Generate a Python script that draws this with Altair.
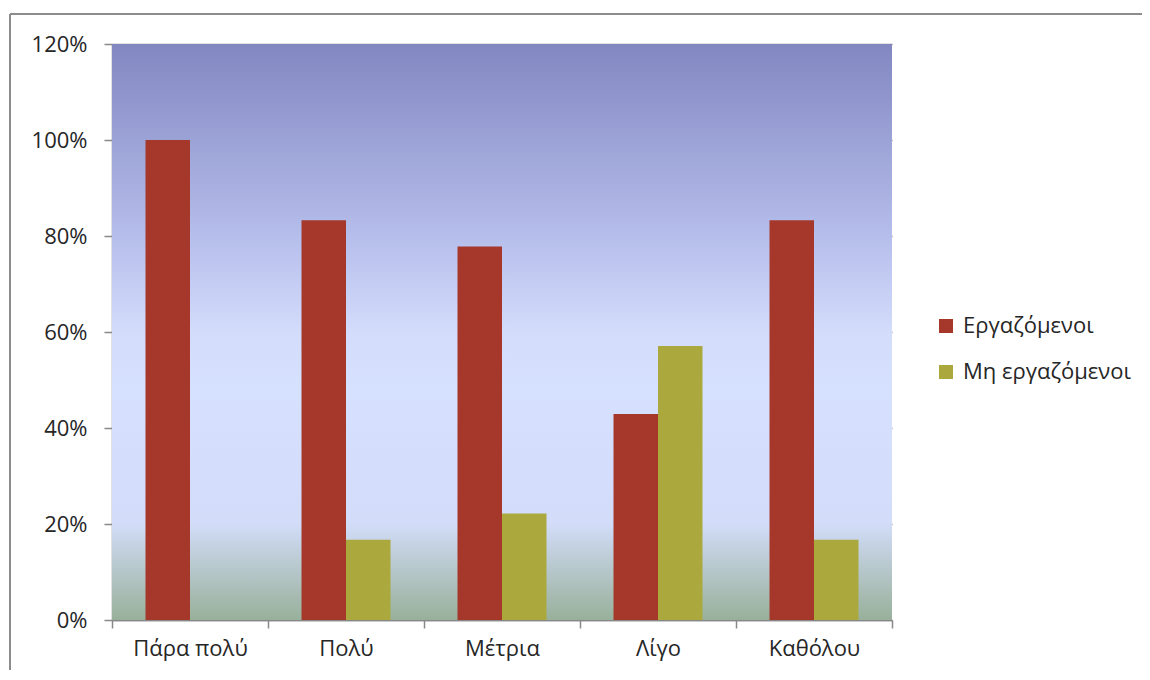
import altair as alt
import pandas as pd

categories = ["Πάρα πολύ", "Πολύ", "Μέτρια", "Λίγο", "Καθόλου"]
series_names = ["Εργαζόμενοι", "Μη εργαζόμενοι"]
employed = [1.0, 0.833, 0.778, 0.429, 0.833]
unemployed = [0.0, 0.167, 0.222, 0.571, 0.167]
y_ticks = [0, 0.2, 0.4, 0.6, 0.8, 1.0, 1.2]
colors = ["#A5382A", "#ABA83E"]

rows = []
for c, a, b in zip(categories, employed, unemployed):
    rows.append({"cat": c, "series": series_names[0], "value": a})
    rows.append({"cat": c, "series": series_names[1], "value": b})
df = pd.DataFrame(rows)

W, H = 780, 576
PAD = {"left": 104, "top": 36, "right": 250, "bottom": 50}
FONT = "Open Sans"
FS = 22

gradient = alt.LinearGradient(
    gradient="linear", x1=0, x2=0, y1=0, y2=1,
    stops=[
        alt.GradientStop(offset=0.0, color="#8287C2"),
        alt.GradientStop(offset=0.17, color="#9CA3D6"),
        alt.GradientStop(offset=0.33, color="#B5BDEB"),
        alt.GradientStop(offset=0.5, color="#D3DCFB"),
        alt.GradientStop(offset=0.6, color="#D6E0FF"),
        alt.GradientStop(offset=0.83, color="#D3DDFA"),
        alt.GradientStop(offset=1.0, color="#98B09A"),
    ],
)

one = pd.DataFrame({"a": [0]})
frame_left = alt.Chart(one).mark_rule(color="#8C8C8C", strokeWidth=2, clip=False).encode(
    x=alt.value(-102), y=alt.value(-30), y2=alt.value(H + PAD["bottom"])
)
frame_top = alt.Chart(one).mark_rule(color="#8C8C8C", strokeWidth=2, clip=False).encode(
    x=alt.value(-102), x2=alt.value(W + PAD["right"]), y=alt.value(-30)
)

bg = alt.Chart(one).mark_rect(fill=gradient).encode(
    x=alt.value(0), x2=alt.value(W), y=alt.value(0), y2=alt.value(H)
)

bars = alt.Chart(df).mark_bar(size=44.5).encode(
    x=alt.X("cat:N", sort=categories, title=None,
            scale=alt.Scale(paddingInner=0, paddingOuter=0),
            axis=alt.Axis(labelAngle=0, tickBand="extent", tickSize=8,
                          tickColor="#888888", tickWidth=1.5,
                          domainColor="#888888", domainWidth=1.5,
                          labelFont=FONT, labelFontSize=FS, labelColor="#262626",
                          labelPadding=10, grid=False)),
    xOffset=alt.XOffset("series:N", sort=series_names,
                        scale=alt.Scale(paddingInner=0, paddingOuter=0.753)),
    y=alt.Y("value:Q", title=None,
            scale=alt.Scale(domain=[0, 1.2], nice=False),
            axis=alt.Axis(values=y_ticks, format=".0%", tickSize=8,
                          tickColor="#888888", tickWidth=1.5,
                          domainColor="#888888", domainWidth=1.5,
                          gridColor="#888888", gridWidth=1.5, grid=True,
                          labelFont=FONT, labelFontSize=FS, labelColor="#262626",
                          labelPadding=17)),
    color=alt.Color("series:N", sort=series_names, title=None,
                    scale=alt.Scale(domain=series_names, range=colors),
                    legend=alt.Legend(orient="none", legendX=823, legendY=271,
                                      symbolType="square", symbolSize=196,
                                      symbolStrokeWidth=0, labelFont=FONT,
                                      labelFontSize=FS, labelColor="#262626",
                                      labelOffset=6, rowPadding=24,
                                      labelLimit=400)),
)

chart = alt.layer(frame_left, frame_top, bg, bars).properties(
    width=W, height=H,
    padding=PAD,
    autosize=alt.AutoSizeParams(type="none"),
).configure_view(stroke=None)

chart.save("out.html", embed_options={"renderer": "svg", "actions": False})
